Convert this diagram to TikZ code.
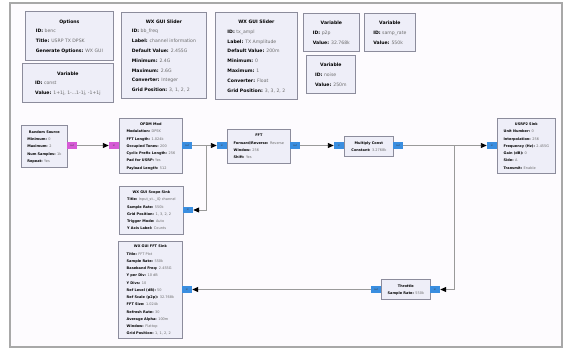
\documentclass[tikz,border=0pt]{standalone}
\usepackage{fontspec}
\setmainfont{DejaVu Sans}
\usetikzlibrary{arrows.meta}

\definecolor{blkfill}{HTML}{EEEEF8}
\definecolor{blkline}{HTML}{8C8C9C}
\definecolor{valgray}{HTML}{6A6A6A}
\definecolor{portblue}{HTML}{3A8EE0}
\definecolor{portmag}{HTML}{D65AD6}
\definecolor{wire}{HTML}{9A9A9A}
\definecolor{canvas}{HTML}{FDFBFE}
\definecolor{framegray}{HTML}{A8A8A8}

\newcommand\toptext{\fontsize{4.6}{9.8}\selectfont}
\newcommand\lowtext{\fontsize{3.5}{7.25}\selectfont}
% one "key: value" parameter line
\newcommand\grckv[2]{\textbf{#1:} {\color{valgray}#2}}
% block body: centred bold title over left-aligned parameter lines
\newcommand\grcbody[2]{\begin{tabular}{@{}l@{}}\multicolumn{1}{@{}c@{}}{\textbf{#1}}\\#2\end{tabular}}

\tikzset{
  blk/.style={draw=blkline, fill=blkfill, line width=0.8pt, anchor=north west,
    inner sep=1.5pt, text=black},
  topblk/.style={blk, font=\toptext},
  lowblk/.style={blk, font=\lowtext},
  port/.style={draw=none, minimum width=10pt, minimum height=6.5pt, inner sep=0pt,
    font=\fontsize{2.4}{2.4}\selectfont, text=black!75},
  bport/.style={port, fill=portblue},
  mport/.style={port, fill=portmag},
  conn/.style={draw=wire, line width=0.9pt,
    -{Triangle[length=6pt,width=5pt,black]}},
}

\begin{document}
\begin{tikzpicture}[x=1pt,y=-1pt]
\useasboundingbox (0,0) rectangle (563,349);
% canvas and frame
\draw[framegray, line width=1.3pt, fill=canvas] (10,3) rectangle (562,347);

% variables and GUI widgets
\node[topblk, minimum width=88pt, minimum height=49pt] (opt) at (25,11)
  {\grcbody{Options}{\grckv{ID}{benc}\\\grckv{Title}{USRP TX DPSK}\\\grckv{Generate Options}{WX GUI}}};
\node[topblk, minimum width=91pt, minimum height=39pt] (vconst) at (22,63)
  {\grcbody{Variable}{\grckv{ID}{const}\\\grckv{Value}{1+1j, 1-...1-1j, -1+1j}}};
\node[topblk, minimum width=85pt, minimum height=86pt] (sl1) at (121,12)
  {\grcbody{WX GUI Slider}{\grckv{ID}{bb\_freq}\\\grckv{Label}{channel information}\\
   \grckv{Default Value}{2.455G}\\\grckv{Minimum}{2.4G}\\\grckv{Maximum}{2.6G}\\
   \grckv{Converter}{Integer}\\\grckv{Grid Position}{3, 1, 2, 2}}};
\node[topblk, minimum width=82pt, minimum height=87pt] (sl2) at (215,12)
  {\grcbody{WX GUI Slider}{\grckv{ID}{tx\_ampl}\\\grckv{Label}{TX Amplitude}\\
   \grckv{Default Value}{200m}\\\grckv{Minimum}{0}\\\grckv{Maximum}{1}\\
   \grckv{Converter}{Float}\\\grckv{Grid Position}{3, 3, 2, 2}}};
\node[topblk, minimum width=56pt, minimum height=38pt] (vp2p) at (303,13)
  {\grcbody{Variable}{\grckv{ID}{p2p}\\\grckv{Value}{32.768k}}};
\node[topblk, minimum width=51pt, minimum height=38pt] (vrate) at (364,13)
  {\grcbody{Variable}{\grckv{ID}{samp\_rate}\\\grckv{Value}{550k}}};
\node[topblk, minimum width=49pt, minimum height=38pt] (vnoise) at (306,55)
  {\grcbody{Variable}{\grckv{ID}{noise}\\\grckv{Value}{250m}}};

% signal processing blocks
\node[lowblk, minimum width=46pt, minimum height=42pt] (rs) at (21,125)
  {\grcbody{Random Source}{\grckv{Minimum}{0}\\\grckv{Maximum}{2}\\
   \grckv{Num Samples}{1k}\\\grckv{Repeat}{Yes}}};
\node[lowblk, minimum width=63pt, minimum height=55pt] (ofdm) at (119,118)
  {\grcbody{OFDM Mod}{\grckv{Modulation}{DPSK}\\\grckv{FFT Length}{1.024k}\\
   \grckv{Occupied Tones}{200}\\\grckv{Cyclic Prefix Length}{256}\\
   \grckv{Pad for USRP}{Yes}\\\grckv{Payload Length}{512}}};
\node[lowblk, minimum width=64pt, minimum height=48pt] (scope) at (119,186)
  {\grcbody{WX GUI Scope Sink}{\grckv{Title}{Input\_st..\_IQ channel}\\
   \grckv{Sample Rate}{550k}\\\grckv{Grid Position}{1, 3, 2, 2}\\
   \grckv{Trigger Mode}{Auto}\\\grckv{Y Axis Label}{Counts}}};
\node[lowblk, minimum width=64pt, minimum height=97pt] (fsink) at (118,241)
  {\grcbody{WX GUI FFT Sink}{\grckv{Title}{FFT Plot}\\\grckv{Sample Rate}{550k}\\
   \grckv{Baseband Freq}{2.455G}\\\grckv{Y per Div}{10 dB}\\\grckv{Y Divs}{10}\\
   \grckv{Ref Level (dB)}{50}\\\grckv{Ref Scale (p2p)}{32.768k}\\
   \grckv{FFT Size}{1.024k}\\\grckv{Refresh Rate}{30}\\\grckv{Average Alpha}{100m}\\
   \grckv{Window}{Flattop}\\\grckv{Grid Position}{1, 1, 2, 2}}};
\node[lowblk, minimum width=63pt, minimum height=34pt] (fft) at (227,129)
  {\grcbody{FFT}{\grckv{Forward/Reverse}{Reverse}\\\grckv{Window}{256}\\\grckv{Shift}{Yes}}};
\node[lowblk, minimum width=49pt, minimum height=20pt] (mul) at (344,136)
  {\grcbody{Multiply Const}{\grckv{Constant}{3.2768k}}};
\node[lowblk, minimum width=49pt, minimum height=20pt] (thr) at (381,279)
  {\grcbody{Throttle}{\grckv{Sample Rate}{550k}}};
\node[lowblk, minimum width=58pt, minimum height=55pt] (usrp) at (497,118)
  {\grcbody{USRP2 Sink}{\grckv{Unit Number}{0}\\\grckv{Interpolation}{256}\\
   \grckv{Frequency (Hz)}{2.455G}\\\grckv{Gain (dB)}{0}\\\grckv{Side}{A}\\
   \grckv{Transmit}{Enable}}};

% ports
\node[mport] (rs-out) at (72,145.5) {out};
\node[mport] (ofdm-in) at (114,145.5) {in};
\node[bport] (ofdm-out) at (187,145.5) {out};
\node[bport] (scope-in) at (188,210) {in};
\node[bport] (fsink-in) at (187,289.5) {in};
\node[bport] (fft-in) at (222,145.5) {in};
\node[bport] (fft-out) at (295,145.5) {out};
\node[bport] (mul-in) at (339,145.5) {in};
\node[bport] (mul-out) at (398,145.5) {out};
\node[bport] (usrp-in) at (492,145.5) {in};
\node[bport] (thr-in) at (435,289.5) {in};
\node[bport] (thr-out) at (376,289.5) {out};

% branch points
\coordinate (tapA) at (206,145.5);
\coordinate (tapB) at (454,145.5);

% connections
\draw[conn] (rs-out) -- (ofdm-in);
\draw[conn] (ofdm-out) -- (fft-in);
\draw[conn] (tapA) |- (scope-in);
\draw[conn] (fft-out) -- (mul-in);
\draw[conn] (mul-out) -- (usrp-in);
\draw[conn] (tapB) |- (thr-in);
\draw[conn] (thr-out) -- (fsink-in);
\end{tikzpicture}
\end{document}
